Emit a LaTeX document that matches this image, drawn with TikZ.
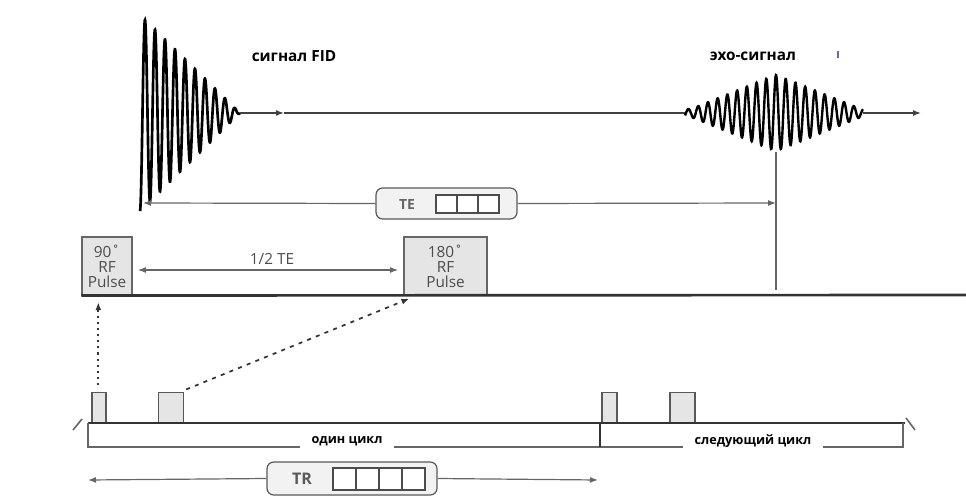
\documentclass[tikz,border=0pt]{standalone}
\usepackage{fontspec}
\setmainfont{Open Sans}
\usetikzlibrary{arrows.meta}
\begin{document}
\begin{tikzpicture}[x=0.75pt,y=-0.75pt,
  tip/.style={-{Latex[length=6pt,width=4.5pt]}},
  tipboth/.style={{Latex[length=6pt,width=4.5pt]}-{Latex[length=6pt,width=4.5pt]}},
  axis/.style={draw=black!75,line width=1.1pt},
  thinax/.style={draw=black!60,line width=0.9pt},
  base/.style={draw=black!80,line width=2pt},
  wave/.style={draw=black,line width=2pt,line join=miter},
  pulsebox/.style={draw=black!60,fill=black!10,line width=0.8pt,inner sep=0pt,align=center,
     font=\fontsize{11.5}{11.25}\selectfont,text=black!70},
  smallpulse/.style={draw=black!65,fill=black!10,line width=0.8pt,inner sep=0pt,anchor=south},
  tagbox/.style={draw=black!65,fill=black!5,line width=0.9pt,rounded corners=5pt,inner sep=0pt},
  sq/.style={draw=black!70,fill=white,line width=0.8pt,inner sep=0pt,minimum width=15.75pt,minimum height=13.5pt},
  lbl/.style={font=\bfseries\fontsize{11.5}{13}\selectfont,text=black},
  cyc/.style={font=\bfseries\fontsize{9.5}{11}\selectfont,text=black,fill=white,inner xsep=9pt,inner ysep=2pt}
]
\useasboundingbox (0,0) rectangle (966,502);

% ---- labels
\node[lbl] (fidlbl) at (294,56) {сигнал FID};
\node[lbl] (echolbl) at (753,56) {эхо-сигнал};
\draw[draw=black!50!blue!60,line width=1.6pt] (838,51) -- (838,58);

% ---- FID and echo
\draw[wave] plot[domain=140:240,samples=600] (\x,{113-98*(240-\x)/100*sin(36*(\x-140)-90)});
\coordinate (fidend) at (240,113);
\coordinate (midarrow) at (284,113);
\coordinate (echostart) at (685,113);
\coordinate (echoend) at (863,113);
\coordinate (axend) at (921,113);
\draw[axis,tip] (fidend) -- (midarrow);
\draw[axis] (midarrow) -- (echostart);
\draw[wave,line width=1.8pt] plot[domain=685:863,samples=700] (\x,{113-max(4,38*(1-abs(\x-776)/95))*sin(37*(\x-776)+90)});
\draw[axis,tip] (echoend) -- (axend);

% ---- TE
\node[tagbox,minimum width=105.75pt,minimum height=23.25pt] (tebox) at (446.5,203.5) {};
\node[font=\bfseries\fontsize{10.5}{11}\selectfont,text=black!60] (tetxt) at (407,205) {TE};
\node[sq] (te1) at (446.5,204) {};
\node[sq] (te2) at (467.5,204) {};
\node[sq] (te3) at (488.5,204) {};
\coordinate (teL) at (143,203);
\coordinate (teR) at (776,203);
\draw[thinax,{Latex[length=6pt,width=4.5pt]}-] (teL) -- (tebox.west);
\draw[thinax,tip] (tebox.east) -- (teR);
\coordinate (vtop) at (776,152);
\coordinate (vbot) at (776,290);
\draw[thinax] (vtop) -- (vbot);

% ---- RF pulses
\node[pulsebox,minimum width=37.5pt,minimum height=43.5pt] (p90) at (107,266) {90˚\\RF\\Pulse};
\node[pulsebox,minimum width=62.25pt,minimum height=43.5pt] (p180) at (445.5,266) {180˚\\RF\\Pulse};
\coordinate (baseR) at (966,295);
\draw[base] (p90.south west) -- (baseR);
\draw[thinax,tipboth,shorten <=4pt,shorten >=4pt] ([yshift=-3pt]p90.east) -- ([yshift=-3pt]p180.west);
\node[font=\fontsize{11.5}{12}\selectfont,text=black!70] (halfte) at (272,259) {1/2 TE};

% ---- lower timeline
\node[smallpulse,minimum width=10.5pt,minimum height=22.5pt] (s1) at (99,423) {};
\node[smallpulse,minimum width=18.75pt,minimum height=22.5pt] (s2) at (171,423) {};
\node[smallpulse,minimum width=11.25pt,minimum height=22.5pt] (s3) at (609.5,423) {};
\node[smallpulse,minimum width=18.75pt,minimum height=22.5pt] (s4) at (682.5,423) {};
\coordinate (lineL) at (88,423);
\coordinate (lineR) at (905,423);
\draw[base,line width=1.7pt] (lineL) -- (lineR);
\draw[thinax,line width=1.2pt] (73,430) -- (82,419);
\draw[thinax,line width=1.2pt] (906,418) -- (915,430);

\draw[black!80,line width=1.6pt,dash pattern=on 1.6pt off 3pt,tip,shorten <=5pt,shorten >=5pt] ([xshift=-0.5pt]s1.north) -- ([xshift=-0.5pt]s1.north |- p90.south);
\draw[black!80,line width=1.3pt,dash pattern=on 3pt off 4pt,tip,shorten <=5pt,shorten >=6pt] ([xshift=-3pt]s2.north east) -- ([xshift=10pt]p180.south west);

% brackets
\coordinate (bA) at (88,447);
\coordinate (bB) at (600,447);
\coordinate (bC) at (903,447);
\draw[thinax] (lineL) -- (bA) -- (bC) -- (903,423);
\draw[draw=black!80,line width=1.4pt] (600,423) -- (bB);
\node[cyc] (one) at (347,441) {один цикл};
\node[cyc] (next) at (753,441) {следующий цикл};

% ---- TR
\node[tagbox,minimum width=127.5pt,minimum height=24.75pt] (trbox) at (352,478.5) {};
\node[font=\bfseries\fontsize{12}{13}\selectfont,text=black!65] (trtxt) at (302,479) {TR};
\node[sq,minimum width=17.25pt,minimum height=16.5pt] (tr1) at (344.5,479) {};
\node[sq,minimum width=17.25pt,minimum height=16.5pt] (tr2) at (367.5,479) {};
\node[sq,minimum width=17.25pt,minimum height=16.5pt] (tr3) at (390.5,479) {};
\node[sq,minimum width=17.25pt,minimum height=16.5pt] (tr4) at (413.5,479) {};
\coordinate (trL) at (88,480);
\coordinate (trR) at (598,480);
\draw[thinax,{Latex[length=6pt,width=4.5pt]}-] (trL) -- (trbox.west);
\draw[thinax,tip] (trbox.east) -- (trR);
\end{tikzpicture}
\end{document}
